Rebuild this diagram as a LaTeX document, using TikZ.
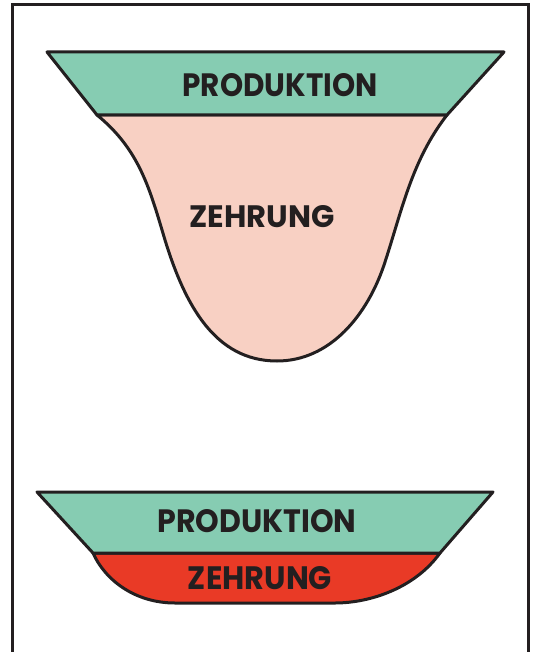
\documentclass[tikz,border=0pt]{standalone}
\usepackage{fontspec}
\setmainfont{Poppins}
\usepackage{graphicx}
\definecolor{ink}{RGB}{35,31,32}
\definecolor{mint}{RGB}{134,204,178}
\definecolor{blush}{RGB}{248,208,195}
\definecolor{tomato}{RGB}{233,58,38}
\tikzset{
  outline/.style={draw=ink, line width=3pt, line join=round},
  lbl/.style={inner sep=0pt, text=ink, font=\bfseries},
}
\newcommand{\fitlabel}[3]{\resizebox{#1pt}{#2pt}{#3}}
\begin{document}
\begin{tikzpicture}[x=1pt,y=-1pt]
\useasboundingbox (0,0) rectangle (532,652);
% frame
\draw[draw=ink, line width=3pt] (12.5,662) -- (12.5,4.5) -- (528.5,4.5) -- (528.5,662);
% upper figure: consumption bulb
\path[outline, fill=blush] (97,115)
  .. controls (140,150) and (150,190) .. (165,240)
  .. controls (185,305) and (215,361) .. (277,361)
  .. controls (330,361) and (368,315) .. (385,262)
  .. controls (402,210) and (412,160) .. (447,115) -- cycle;
\path[outline, fill=mint] (47,52) -- (504,52) -- (447,115) -- (97,115) -- cycle;
\node[lbl] (prodA) at (280,85) {\fitlabel{195}{23}{PRODUKTION}};
\node[lbl] (zehrA) at (262,217) {\fitlabel{145}{22}{ZEHRUNG}};
% lower figure
\path[outline, fill=tomato] (93,553)
  .. controls (105,580) and (135,603) .. (175,603) -- (335,603)
  .. controls (370,603) and (415,588) .. (440,553) -- cycle;
\path[outline, fill=mint] (37,492) -- (493,492) -- (440,553) -- (93,553) -- cycle;
\node[lbl] (prodB) at (257,521) {\fitlabel{199}{23}{PRODUKTION}};
\node[lbl] (zehrB) at (260,578) {\fitlabel{144}{23}{ZEHRUNG}};
\end{tikzpicture}
\end{document}
